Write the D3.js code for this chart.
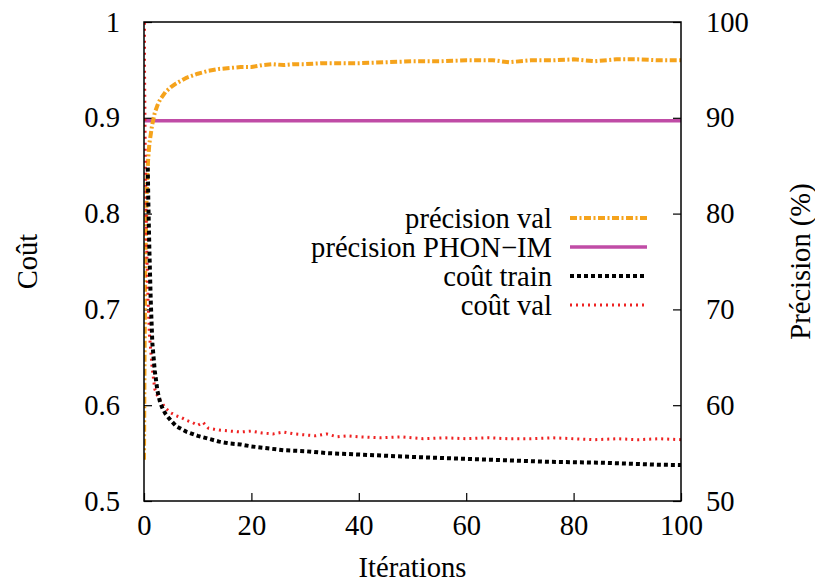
<!DOCTYPE html>
<html lang="fr">
<head>
<meta charset="UTF-8">
<title>Coût / Précision</title>
<script src="https://d3js.org/d3.v7.min.js"></script>
<style>
body { margin: 0; background: #fff; }
svg text { font-family: "Liberation Serif", "Times New Roman", Tinos, Times, serif !important; fill: #000; }
</style>
</head>
<body>
<div id="chart"></div>
<script>
// coût train (noir)
const trainIter = [0.7, 0.8, 1.0, 1.25, 1.55, 2, 2.5, 3, 3.5, 4, 5, 6, 7, 8, 9, 10, 12, 14, 16, 18, 20, 23, 26, 30, 34, 38, 42, 46, 50, 55, 60, 65, 70, 75, 80, 85, 90, 95, 100];
const trainCost = [0.848, 0.814, 0.762, 0.71, 0.665, 0.636, 0.615, 0.603, 0.596, 0.591, 0.584, 0.578, 0.575, 0.572, 0.570, 0.568, 0.565, 0.562, 0.560, 0.559, 0.557, 0.555, 0.553, 0.552, 0.550, 0.549, 0.548, 0.547, 0.546, 0.545, 0.544, 0.543, 0.542, 0.541, 0.5405, 0.540, 0.539, 0.538, 0.5375];

// coût val (rouge)
const valIter = [0, 0.1, 0.25, 0.5, 0.75, 1, 1.5, 2, 2.5, 3, 4, 5, 6, 7, 8, 9, 10, 11, 12, 13, 14, 16, 18, 20, 22, 24, 26, 28, 30, 32, 34, 36, 38, 40, 44, 48, 52, 56, 60, 64, 68, 72, 76, 80, 84, 88, 92, 96, 100];
const valCost = [1.4, 0.95, 0.85, 0.765, 0.71, 0.675, 0.64, 0.617, 0.61, 0.605, 0.597, 0.592, 0.589, 0.587, 0.584, 0.582, 0.579, 0.582, 0.576, 0.575, 0.574, 0.573, 0.572, 0.573, 0.571, 0.570, 0.572, 0.570, 0.569, 0.568, 0.570, 0.567, 0.568, 0.567, 0.566, 0.567, 0.565, 0.566, 0.565, 0.566, 0.565, 0.565, 0.566, 0.565, 0.564, 0.565, 0.564, 0.565, 0.564];

// précision val (orange), en %
const precIter = [0, 0.1, 0.25, 0.5, 0.75, 1, 1.5, 2, 2.5, 3, 4, 5, 6, 7, 8, 9, 10, 12, 14, 16, 18, 20, 22, 24, 26, 28, 30, 33, 36, 40, 45, 50, 55, 60, 65, 68, 72, 76, 80, 84, 88, 92, 96, 100];
const precVal = [54.3, 65, 75, 82, 85.5, 87.3, 89.2, 90.5, 91.3, 91.9, 92.7, 93.2, 93.6, 93.9, 94.2, 94.4, 94.6, 94.9, 95.1, 95.2, 95.3, 95.3, 95.5, 95.6, 95.5, 95.6, 95.6, 95.7, 95.7, 95.7, 95.8, 95.9, 95.9, 96.0, 96.0, 95.8, 96.0, 96.0, 96.1, 95.9, 96.1, 96.1, 96.0, 96.0];

// précision PHON-IM (constante)
const phonIter = [0, 100];
const phonVal = [89.7, 89.7];

const xTicks = [0, 20, 40, 60, 80, 100];
const yTicks = [0.5, 0.6, 0.7, 0.8, 0.9, 1];
const y2Ticks = [50, 60, 70, 80, 90, 100];

const width = 815, height = 584;
const pLeft = 144, pRight = 681, pTop = 22, pBottom = 501;
const serif = "'Liberation Serif', 'Times New Roman', Tinos, Times, serif";

const svg = d3.select("#chart").append("svg")
    .attr("width", width)
    .attr("height", height)
    .attr("font-family", serif);

const x = d3.scaleLinear().domain([0, 100]).range([pLeft, pRight]);
const y = d3.scaleLinear().domain([0.5, 1]).range([pBottom, pTop]);
const y2 = d3.scaleLinear().domain([50, 100]).range([pBottom, pTop]);

svg.append("defs").append("clipPath").attr("id", "clip")
    .append("rect")
    .attr("x", pLeft).attr("y", pTop)
    .attr("width", pRight - pLeft).attr("height", pBottom - pTop);

const fs = 28.6;

// axes
const axBottom = svg.append("g").attr("transform", `translate(0,${pBottom})`)
    .call(d3.axisBottom(x).tickValues(xTicks).tickSizeInner(-8).tickSizeOuter(0).tickPadding(13));
const axLeft = svg.append("g").attr("transform", `translate(${pLeft},0)`)
    .call(d3.axisLeft(y).tickValues(yTicks).tickFormat(d3.format("")).tickSizeInner(-8).tickSizeOuter(0).tickPadding(24));
const axRight = svg.append("g").attr("transform", `translate(${pRight},0)`)
    .call(d3.axisRight(y2).tickValues(y2Ticks).tickSizeInner(-8).tickSizeOuter(0).tickPadding(25));

[axBottom, axLeft, axRight].forEach(g => {
    g.attr("font-family", serif).attr("font-size", fs);
    g.select(".domain").remove();
    g.selectAll(".tick line").attr("stroke", "#000").attr("stroke-width", 1.2);
    g.selectAll(".tick text").attr("font-size", fs).style("font-family", serif);
});
axBottom.selectAll(".tick text").attr("dy", "0.72em");

const plot = svg.append("g").attr("clip-path", "url(#clip)");

const lineCost = (xs, ys) => d3.line().x((d, i) => x(xs[i])).y((d, i) => y(ys[i]))(ys);
const lineProc = (xs, ys) => d3.line().x((d, i) => x(xs[i])).y((d, i) => y2(ys[i]))(ys);

const series = [
    { label: "précision val", d: lineProc(precIter, precVal), color: "#f5a31c", w: 4, dash: "7,2.5,2,2.5" },
    { label: "précision PHON\u2212IM", d: lineProc(phonIter, phonVal), color: "#c04ca6", w: 3.5, dash: null },
    { label: "coût train", d: lineCost(trainIter, trainCost), color: "#000000", w: 4, dash: "4,3" },
    { label: "coût val", d: lineCost(valIter, valCost), color: "#ee2222", w: 3, dash: "2,4" }
];

// draw order: PHON, orange, red, black on top
[1, 0, 3, 2].forEach(i => {
    const s = series[i];
    plot.append("path")
        .attr("d", s.d)
        .attr("fill", "none")
        .attr("stroke", s.color)
        .attr("stroke-width", s.w)
        .attr("stroke-dasharray", s.dash)
        .attr("stroke-linejoin", "round");
});

// border
svg.append("rect")
    .attr("x", pLeft).attr("y", pTop)
    .attr("width", pRight - pLeft).attr("height", pBottom - pTop)
    .attr("fill", "none").attr("stroke", "#000").attr("stroke-width", 1.5);

// legend
const legY = [218, 247, 276, 305];
series.forEach((s, i) => {
    svg.append("text")
        .attr("x", 552).attr("y", legY[i])
        .attr("dy", "0.35em")
        .attr("text-anchor", "end")
        .attr("font-size", fs)
        .style("font-family", serif)
        .text(s.label);
    svg.append("line")
        .attr("x1", 570).attr("x2", 647)
        .attr("y1", legY[i]).attr("y2", legY[i])
        .attr("stroke", s.color)
        .attr("stroke-width", s.w)
        .attr("stroke-dasharray", s.dash);
});

// axis titles
svg.append("text")
    .attr("x", (pLeft + pRight) / 2).attr("y", 577)
    .attr("text-anchor", "middle")
    .attr("font-size", fs)
    .style("font-family", serif)
    .text("Itérations");

svg.append("text")
    .attr("transform", `translate(37,${(pTop + pBottom) / 2}) rotate(-90)`)
    .attr("text-anchor", "middle")
    .attr("font-size", fs)
    .style("font-family", serif)
    .text("Coût");

svg.append("text")
    .attr("transform", `translate(810,${(pTop + pBottom) / 2}) rotate(-90)`)
    .attr("text-anchor", "middle")
    .attr("font-size", fs)
    .style("font-family", serif)
    .text("Précision (%)");
</script>
</body>
</html>
